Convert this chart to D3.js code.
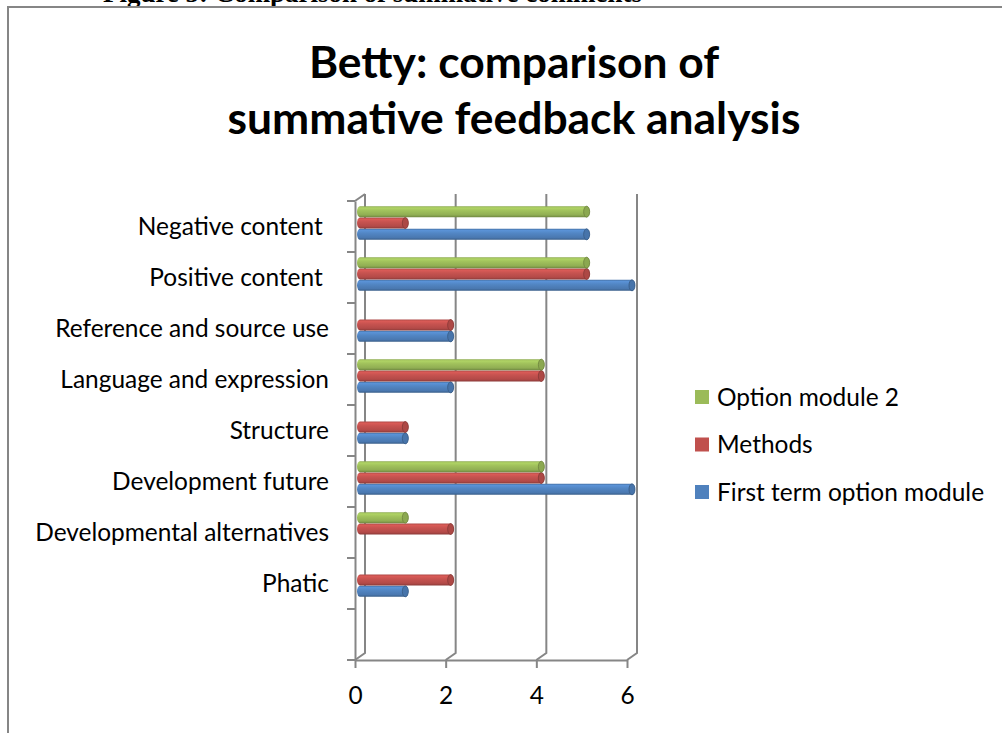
<!DOCTYPE html>
<html>
<head>
<meta charset="utf-8">
<script src="https://cdn.jsdelivr.net/npm/d3@7"></script>
<style>
  html, body { margin: 0; padding: 0; background: #fff; }
  svg { display: block; }
</style>
</head>
<body>
<svg id="chart" width="1002" height="733"></svg>
<script>
(function() {
    'use strict';

    // bottom band is an empty category in the original sheet
    var categories = ['', 'Phatic', 'Developmental alternatives', 'Development future', 'Structure',
        'Language and expression', 'Reference and source use', 'Positive content ', 'Negative content '];
    var seriesNames = ['First term option module', 'Methods', 'Option module 2'];
    var firstTerm = [0, 1, 0, 6, 1, 2, 2, 6, 5];
    var methods = [0, 2, 2, 4, 1, 4, 2, 5, 1];
    var optionModule2 = [0, 0, 1, 4, 0, 4, 0, 5, 5];
    var xTicks = [0, 2, 4, 6];
    var colors = ['#4F81BD', '#C0504D', '#9BBB59'];

    var seriesValues = [firstTerm, methods, optionModule2];

    var svg = d3.select('#chart');
    var grid = '#868686';
    var depth = { dx: 10, dy: -7 };
    var front = { left: 355, right: 627, top: 201, bottom: 660 };

    /**
     * Font size that makes a string fill a given width
     */
    function fitSize(str, family, weight, width) {
        var t = svg.append('text')
            .style('font-family', family)
            .style('font-weight', weight)
            .style('font-size', '100px')
            .style('white-space', 'pre')
            .text(str);
        var len = t.node().getComputedTextLength();
        t.remove();
        return 100 * width / len;
    }

    var sans = 'Lato, "Open Sans", sans-serif';
    var labelSize = fitSize('Negative content', sans, 400, 185);
    var titleSize = fitSize('summative feedback analysis', sans, 700, 573);
    var captionSize = fitSize('Figure 5: Comparison of summative comments', '"Liberation Serif", serif', 700, 539);

    // clipped caption above the chart frame
    svg.append('text')
        .attr('x', 103)
        .attr('y', 1.5)
        .style('font-family', '"Liberation Serif", serif')
        .style('font-weight', 700)
        .style('font-size', captionSize + 'px')
        .text('Figure 5: Comparison of summative comments');

    // chart frame
    svg.append('path')
        .attr('d', 'M8,733V7H1002')
        .attr('fill', 'none')
        .attr('stroke', grid)
        .attr('stroke-width', 2);

    // title
    var title = svg.append('text')
        .attr('text-anchor', 'middle')
        .style('font-family', sans)
        .style('font-weight', 700)
        .style('font-size', titleSize + 'px');
    title.append('tspan').attr('x', 514).attr('y', 78).text('Betty: comparison of');
    title.append('tspan').attr('x', 514).attr('y', 134).text('summative feedback analysis');

    var x = d3.scaleLinear().domain([0, 6]).range([front.left, front.right]);
    var y = d3.scaleBand().domain(categories).range([front.bottom, front.top]);
    var step = y.step();

    // back wall gridlines and floor diagonals
    var g = svg.append('g').attr('fill', 'none').attr('stroke', grid).attr('stroke-width', 2);
    xTicks.forEach(function(t) {
        g.append('path')
            .attr('d', 'M' + x(t) + ',' + front.bottom +
                'L' + (x(t) + depth.dx) + ',' + (front.bottom + depth.dy) +
                'V' + (front.top + depth.dy));
    });
    g.append('path')
        .attr('d', 'M' + x(0) + ',' + front.top + 'L' + (x(0) + depth.dx) + ',' + (front.top + depth.dy));

    // category boundary ticks
    g.selectAll('line.cat-tick')
        .data(d3.range(categories.length + 1))
        .enter().append('line')
        .attr('class', 'cat-tick')
        .attr('x1', front.left - 8)
        .attr('x2', front.left)
        .attr('y1', function(i) { return front.top + i * step; })
        .attr('y2', function(i) { return front.top + i * step; });

    // cylinders
    var defs = svg.append('defs');
    colors.forEach(function(c, i) {
        var base = d3.color(c);
        var grad = defs.append('linearGradient')
            .attr('id', 'cyl' + i)
            .attr('x1', 0).attr('y1', 0).attr('x2', 0).attr('y2', 1);
        [[0, base.darker(0.3)], [0.15, base.brighter(0.35)], [0.4, base.brighter(0.1)], [0.8, base.darker(0.2)], [1, base.darker(0.9)]]
            .forEach(function(s) {
                grad.append('stop').attr('offset', s[0]).attr('stop-color', s[1]);
            });
    });

    var groupH = 34;
    var inner = d3.scaleBand()
        .domain(seriesNames.slice().reverse())
        .range([0, groupH]);

    var bars = [];
    categories.forEach(function(cat, ci) {
        seriesNames.forEach(function(s, si) {
            bars.push({ cat: cat, series: s, index: si, value: seriesValues[si][ci] });
        });
    });

    var barG = svg.append('g');
    var cyl = barG.selectAll('g.bar')
        .data(bars.filter(function(d) { return d.value > 0; }))
        .enter().append('g')
        .attr('class', 'bar');

    function geom(d) {
        var top = y(d.cat) + step / 2 + depth.dy / 2 - groupH / 2 + inner(d.series) + 0.2;
        var h = inner.bandwidth() - 0.4;
        return {
            x0: x(0) + depth.dx / 2,
            x1: x(d.value) + depth.dx / 2,
            yt: top,
            yb: top + h,
            rx: 3,
            ry: h / 2
        };
    }

    cyl.append('path')
        .attr('d', function(d) {
            var b = geom(d);
            return 'M' + b.x0 + ',' + b.yt + 'H' + b.x1 +
                'A' + b.rx + ',' + b.ry + ' 0 0 1 ' + b.x1 + ',' + b.yb +
                'H' + b.x0 +
                'A' + b.rx + ',' + b.ry + ' 0 0 1 ' + b.x0 + ',' + b.yt + 'Z';
        })
        .attr('fill', function(d) { return 'url(#cyl' + d.index + ')'; });

    cyl.append('ellipse')
        .attr('cx', function(d) { return geom(d).x1; })
        .attr('cy', function(d) { var b = geom(d); return (b.yt + b.yb) / 2; })
        .attr('rx', function(d) { return geom(d).rx; })
        .attr('ry', function(d) { return geom(d).ry; })
        .attr('fill', function(d) { return d3.color(colors[d.index]).darker(0.3); })
        .attr('stroke', function(d) { return d3.color(colors[d.index]).darker(1); })
        .attr('stroke-width', 0.8);

    // axes
    var xAxis = svg.append('g')
        .attr('transform', 'translate(0,' + front.bottom + ')')
        .call(d3.axisBottom(x).tickValues(xTicks).tickFormat(d3.format('d')).tickSize(8).tickSizeOuter(0));
    xAxis.select('.domain').attr('stroke', grid).attr('stroke-width', 2);
    xAxis.selectAll('.tick line').attr('stroke', grid).attr('stroke-width', 2);
    xAxis.selectAll('.tick text')
        .attr('y', 35)
        .attr('dy', '0.35em')
        .style('font-family', sans)
        .style('font-size', labelSize + 'px')
        .attr('fill', '#000');

    var yAxis = svg.append('g')
        .attr('transform', 'translate(' + front.left + ',0)')
        .call(d3.axisLeft(y).tickSize(0).tickPadding(26));
    yAxis.select('.domain').attr('stroke', grid).attr('stroke-width', 2);
    yAxis.selectAll('.tick text')
        .attr('dy', '0.35em')
        .style('font-family', sans)
        .style('font-size', labelSize + 'px')
        .style('white-space', 'pre')
        .attr('fill', '#000');

    // legend, top entry is the last series
    var legend = svg.append('g').attr('transform', 'translate(695,397)');
    var item = legend.selectAll('g')
        .data(seriesNames.map(function(s, i) { return { name: s, color: colors[i] }; }).reverse())
        .enter().append('g')
        .attr('transform', function(d, i) { return 'translate(0,' + (i * 47.5) + ')'; });
    item.append('rect')
        .attr('x', 0).attr('y', -7)
        .attr('width', 14).attr('height', 14)
        .attr('fill', function(d) { return d.color; });
    item.append('text')
        .attr('x', 22)
        .attr('dy', '0.35em')
        .style('font-family', sans)
        .style('font-size', labelSize + 'px')
        .text(function(d) { return d.name; });
})();
</script>
</body>
</html>
